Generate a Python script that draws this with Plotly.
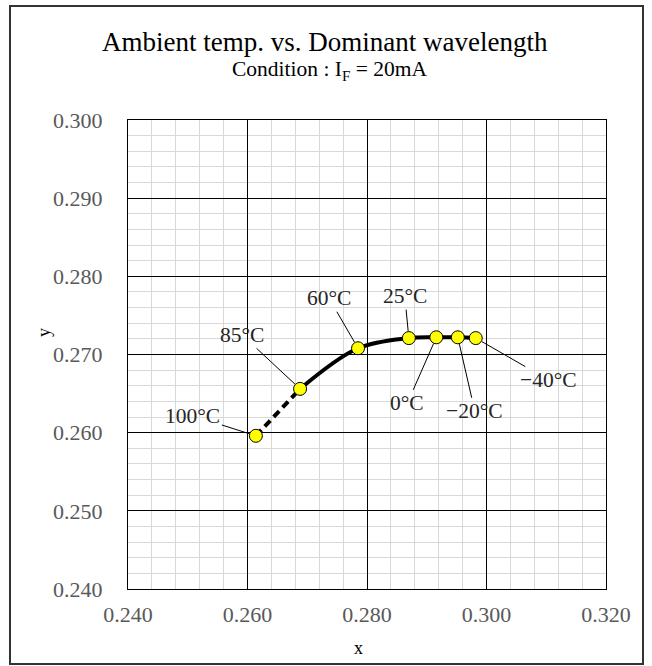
import plotly.graph_objects as go

# ---- data ----
temps = ["100°C", "85°C", "60°C", "25°C", "0°C", "\u221220°C", "\u221240°C"]
x_vals = [0.2614, 0.2688, 0.2785, 0.2870, 0.2916, 0.2952, 0.2982]
y_vals = [0.2596, 0.2656, 0.2708, 0.2721, 0.2722, 0.2722, 0.2721]
x_ticks = [0.240, 0.260, 0.280, 0.300, 0.320]
y_ticks = [0.240, 0.250, 0.260, 0.270, 0.280, 0.290, 0.300]

# label offsets in pixels relative to each point (layout only)
label_dx = [-63, -58, -29, -4, -29, 17, 73]
label_dy = [-20, -54, -50, -42, 66, 74, 42]

W, H = 652, 666
ML, MR, MT, MB = 128, 46, 120, 77
PW, PH = W - ML - MR, H - MT - MB
FONT = "Liberation Serif, Times New Roman, serif"


def px_x(px):
    return (px - ML) / PW


def px_y(py):
    return (H - MB - py) / PH


fig = go.Figure()

# dashed segment (100°C -> 85°C)
fig.add_trace(go.Scatter(
    x=x_vals[0:2], y=y_vals[0:2], mode="lines",
    line=dict(color="black", width=4, dash="8px,5px"),
    hoverinfo="skip", showlegend=False))

# solid smoothed segment (85°C -> -40°C)
fig.add_trace(go.Scatter(
    x=x_vals[1:], y=y_vals[1:], mode="lines",
    line=dict(color="black", width=4, shape="spline", smoothing=1.0),
    hoverinfo="skip", showlegend=False))

# markers
fig.add_trace(go.Scatter(
    x=x_vals, y=y_vals, mode="markers", text=temps,
    marker=dict(size=13, color="#FFFF00", line=dict(color="black", width=1)),
    showlegend=False))

annotations = []
for t, xv, yv, dx, dy in zip(temps, x_vals, y_vals, label_dx, label_dy):
    annotations.append(dict(
        x=xv, y=yv, xref="x", yref="y", text=t, showarrow=True,
        ax=dx, ay=dy, arrowhead=0, arrowwidth=1, arrowcolor="black",
        standoff=7, font=dict(family=FONT, size=21.5, color="#262626")))

# titles
annotations.append(dict(
    x=px_x(325), y=px_y(42), xref="paper", yref="paper",
    text="Ambient temp. vs. Dominant wavelength", showarrow=False,
    xanchor="center", yanchor="middle",
    font=dict(family=FONT, size=27, color="black")))
annotations.append(dict(
    x=px_x(329), y=px_y(71), xref="paper", yref="paper",
    text="Condition : I<sub>F</sub> = 20mA", showarrow=False,
    xanchor="center", yanchor="middle",
    font=dict(family=FONT, size=21.5, color="black")))
# axis titles
annotations.append(dict(
    x=px_x(358), y=px_y(648), xref="paper", yref="paper",
    text="x", showarrow=False, xanchor="center", yanchor="middle",
    font=dict(family=FONT, size=18, color="black")))
annotations.append(dict(
    x=px_x(44), y=px_y(333), xref="paper", yref="paper",
    text="y", showarrow=False, xanchor="center", yanchor="middle",
    textangle=-90, font=dict(family=FONT, size=18, color="black")))

# outer frame
shapes = [dict(
    type="rect", xref="paper", yref="paper",
    x0=px_x(10), x1=px_x(643), y0=px_y(664), y1=px_y(6),
    line=dict(color="#333333", width=2), layer="below")]

axis_common = dict(
    showgrid=True, gridcolor="black", gridwidth=1,
    showline=True, linecolor="black", linewidth=1, mirror=True,
    ticks="", zeroline=False, tickformat=".3f",
    tickfont=dict(family=FONT, size=22, color="#595959"),
)

fig.update_layout(
    width=W, height=H,
    margin=dict(l=ML, r=MR, t=MT, b=MB),
    paper_bgcolor="white", plot_bgcolor="white",
    annotations=annotations, shapes=shapes,
    xaxis=dict(range=[0.24, 0.32], tickvals=x_ticks,
               minor=dict(dtick=0.004, tick0=0.24, showgrid=True,
                          gridcolor="#D9D9D9", gridwidth=1),
               ticklabelstandoff=6, **axis_common),
    yaxis=dict(range=[0.24, 0.30], tickvals=y_ticks,
               minor=dict(dtick=0.002, tick0=0.24, showgrid=True,
                          gridcolor="#D9D9D9", gridwidth=1),
               ticklabelstandoff=20, **axis_common),
)

fig.write_html(
    "out.html",
    config={"displayModeBar": False},
    post_script="document.body.style.margin='0px';document.body.style.overflow='hidden';",
)
